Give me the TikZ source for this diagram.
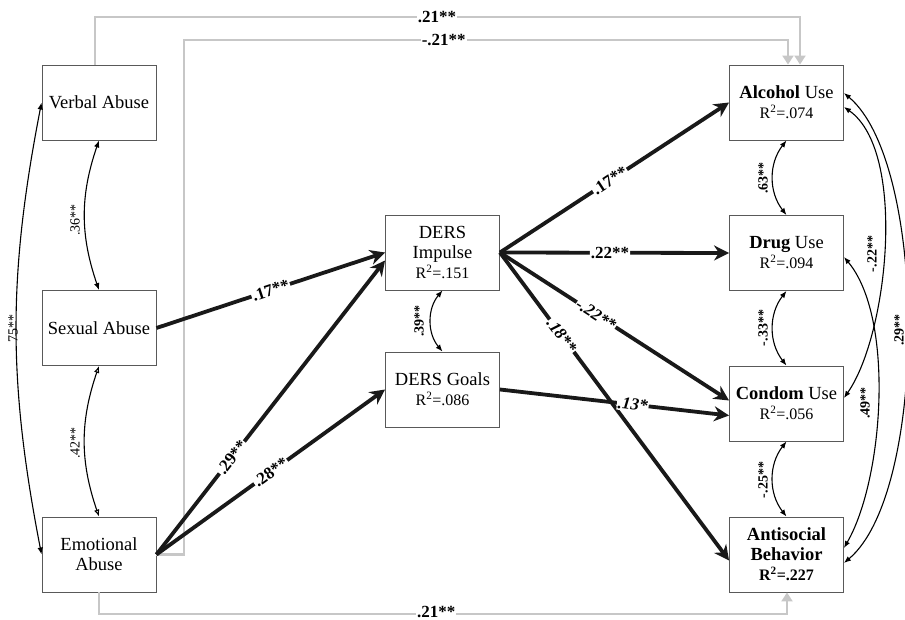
\documentclass[tikz,border=0pt]{standalone}
\usepackage{fontspec}
\setmainfont{Liberation Serif}
\usetikzlibrary{
  arrows.meta,
  calc,
  positioning
}

\tikzset{
  var/.style={draw=black!65,line width=0.9pt,fill=white,minimum width=114pt,
    minimum height=75pt,inner sep=2pt,align=center,
    font=\fontsize{18.5}{20}\selectfont},
  effect/.style={line width=3.8pt,black!90,-{Stealth[length=15pt,width=15pt]}},
  cov/.style={line width=1.1pt,{Latex[length=7pt,width=5.5pt]}-{Latex[length=7pt,width=5.5pt]}},
  covopen/.style={line width=1.1pt,{Latex[open,length=7pt,width=5.5pt]}-{Latex[open,length=7pt,width=5.5pt]}},
  direct/.style={line width=2.6pt,black!22,-{Triangle[length=9pt,width=11pt]}},
  coef/.style={fill=white,text=black,inner sep=1pt,sloped,
    font=\bfseries\fontsize{17}{17}\selectfont},
  coefit/.style={coef,font=\bfseries\itshape\fontsize{17}{17}\selectfont},
  covlabel/.style={rotate=90,inner sep=0pt,font=\fontsize{14}{14}\selectfont},
  covbold/.style={covlabel,font=\bfseries\fontsize{14}{14}\selectfont}
}
\newcommand{\rsq}[1]{{\fontsize{16}{20}\selectfont R\textsuperscript{2}=#1}}

\begin{document}
\begin{tikzpicture}[x=1pt,y=-1pt]
  \useasboundingbox (0,0) rectangle (905,620);

  % abuse types
  \node[var] at (99,102.5) (verbal) {Verbal Abuse};
  \node[var] at (99,328) (sexual) {Sexual Abuse};
  \node[var] at (99,554.5) (emotional) {Emotional\\Abuse};
  % DERS
  \node[var] at (442.5,252.5) (impulse) {DERS\\Impulse\\\rsq{.151}};
  \node[var] at (442.5,389.5) (goals) {DERS Goals\\\rsq{.086}};
  % outcomes
  \node[var] at (786.5,102.5) (alcohol) {\textbf{Alcohol} Use\\\rsq{.074}};
  \node[var] at (786.5,253) (drug) {\textbf{Drug} Use\\\rsq{.094}};
  \node[var] at (786.5,403.5) (condom) {\textbf{Condom} Use\\\rsq{.056}};
  \node[var] at (786.5,554.5) (antisocial)
  {\textbf{Antisocial}\\\textbf{Behavior}\\\textbf{\rsq{.227}}};

  % direct paths
  \coordinate (t1) at (95,17);
  \coordinate (t2) at (800,17);
  \coordinate (m1) at (184,40);
  \coordinate (m2) at (788,40);
  \coordinate (b1) at (99,614);
  \coordinate (b2) at (787,614);
  \draw[direct] ([xshift=-4pt]verbal.north) -- (t1) --
  node[coef,pos=0.485] {.21**} (t2) -- (t2 |- alcohol.north);
  \draw[direct] (emotional.east) -- (emotional.east -| m1) -- (m1) --
  node[coef,pos=0.43] {-.21**} (m2) -- (m2 |- alcohol.north);
  \draw[direct] (emotional.south) -- (b1) --
  node[coef,pos=0.49,yshift=2.5pt] {.21**} (b2) -- (b2 |- antisocial.south);

  \draw[effect] (sexual.east) -- node[coef] {.17**} (impulse.west);
  \draw[effect] (emotional.east) -- node[coef,pos=0.33] {.29**} ([yshift=-8pt]impulse.west);
  \draw[effect] (emotional.east) -- node[coef] {.28**} (goals.west);
  \draw[effect] (impulse.east) -- node[coef,pos=0.48] {.17**} (alcohol.west);
  \draw[effect] (impulse.east) -- node[coef,pos=0.48] {.22**} (drug.west);
  \draw[effect] (impulse.east) -- node[coefit,pos=0.27] {.18**} ([yshift=-6pt]antisocial.west);
  \draw[effect] (impulse.east) -- node[coefit,pos=0.42] {-.22**} ([yshift=3pt]condom.west);
  \draw[effect] (goals.east) -- node[coefit,pos=0.58] {.13*} ([yshift=-12pt]condom.west);

  % correlations
  \draw[cov] (verbal.south) to[bend right=19] (sexual.north);
  \draw[covopen] (sexual.south) to[bend right=19] (emotional.north);
  \draw[cov] (verbal.west) to[bend right=11] (emotional.west);
  \draw[cov] (impulse.south) to[bend right=40] (goals.north);
  \draw[cov] (alcohol.south) to[bend right=38] (drug.north);
  \draw[cov] (drug.south) to[bend right=38] (condom.north);
  \draw[cov] (condom.south) to[bend right=38] (antisocial.north);
  \draw[cov] ([yshift=9.5pt]alcohol.east) to[out=-40,in=40,looseness=0.6]
  ([yshift=-8.5pt]antisocial.east);
  \draw[cov] ([yshift=-4.5pt]alcohol.east) to[out=-35,in=55,looseness=0.68]
  ([yshift=5.5pt]condom.east);
  \draw[cov] ([yshift=-4pt]drug.east) to[out=-50,in=60,looseness=0.7]
  ([yshift=6.5pt]antisocial.east);

  \node[covlabel] (c36) at (75,220) {.36**};
  \node[covlabel] (c42) at (75,443) {.42**};
  \node[covlabel] (c75) at (13,328) {75**};
  \node[covbold] (c39) at (419,321) {.39**};
  \node[covbold] (c63) at (763,178) {.63**};
  \node[covbold] (c33) at (763,328) {-.33**};
  \node[covbold] (c25) at (763,480) {-.25**};
  \node[covbold] (c22) at (872,254) {-.22**};
  \node[covbold] (c49) at (865,403) {.49**};
  \node[covbold] (c29) at (899,330) {.29**};
\end{tikzpicture}
\end{document}
